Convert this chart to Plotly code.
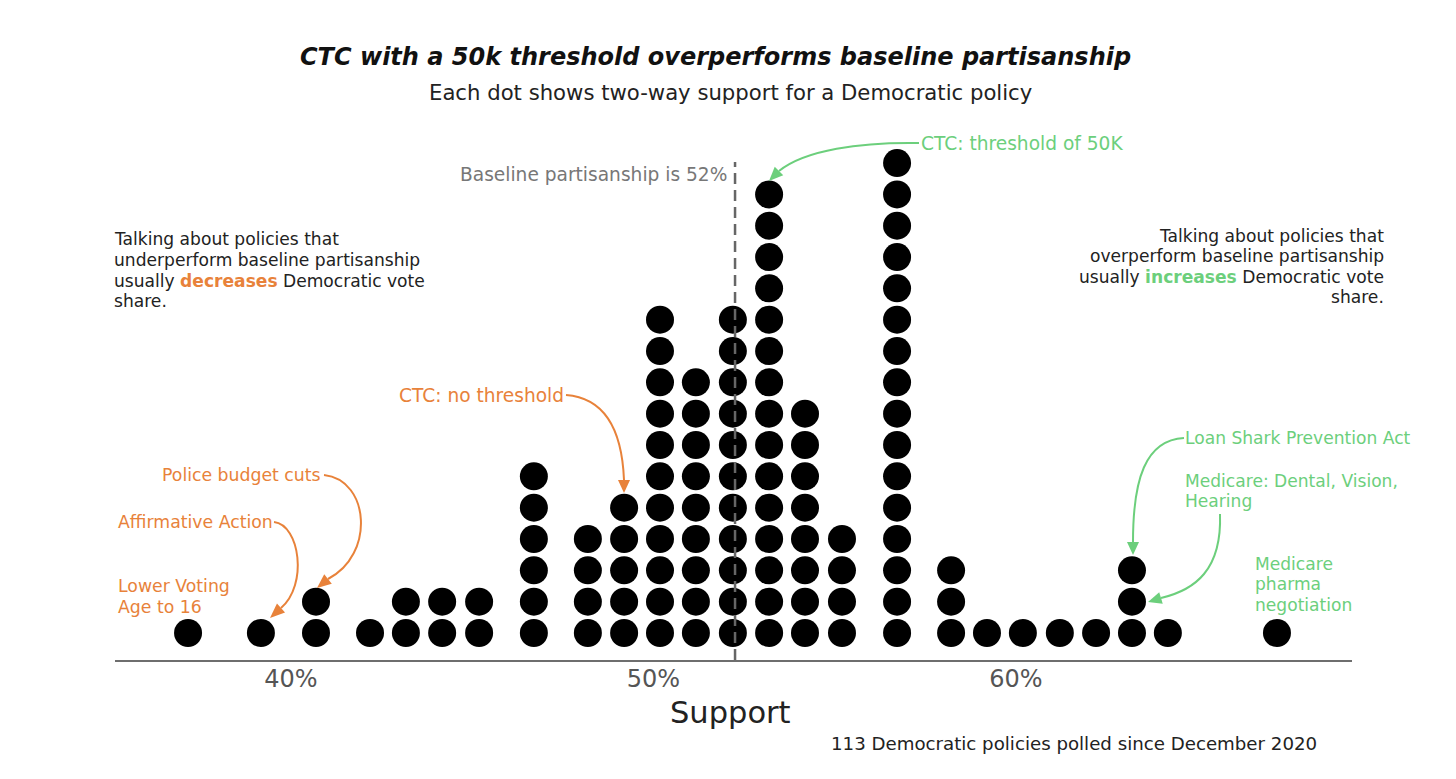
import math
import plotly.graph_objects as go

# ---------------- data ----------------
support_pct = [37.16, 39.17, 40.69, 42.18, 43.17, 44.17, 45.19, 46.70, 48.19,
               49.19, 50.18, 51.17, 52.19, 53.19, 54.18, 55.20, 56.72, 58.21,
               59.20, 60.19, 61.21, 62.21, 63.20, 64.19, 67.20]
policy_counts = [1, 1, 2, 1, 2, 2, 2, 6, 4, 5, 11, 9, 11, 15, 8, 4, 16, 3,
                 1, 1, 1, 1, 3, 1, 1]
baseline_pct = 52.25
tick_values = [40, 50, 60]
tick_labels = ["40%", "50%", "60%"]

# ---------------- styling ----------------
FONT = "DejaVu Sans"
ORANGE = "#E8823A"
GREEN = "#6CCF7C"
DARK = "#222222"
GREY = "#777777"

W, H = 1456, 779
ML, MR, MT, MB = 115, 104, 130, 119
PW = W - ML - MR
PH = H - MT - MB


def P(px, py):
    """pixel position on the figure -> paper coordinates"""
    return (px - ML) / PW, (H - MB - py) / PH


xs, ys = [], []
for x, n in zip(support_pct, policy_counts):
    for k in range(n):
        xs.append(x)
        ys.append(k)

fig = go.Figure()
fig.add_trace(go.Scatter(
    x=xs, y=ys, mode="markers",
    marker=dict(size=28, color="black", line=dict(width=0)),
    hoverinfo="x", showlegend=False,
))

shapes = []
annotations = []

# baseline dashed line
shapes.append(dict(type="line", xref="x", yref="paper",
                   x0=baseline_pct, x1=baseline_pct, y0=0, y1=P(0, 162)[1],
                   line=dict(color="#666666", width=2.5, dash="11px,6px")))


def arrow(S, c1, c2, B, T, color):
    s = P(*S); a = P(*c1); b = P(*c2); e = P(*B)
    path = f"M {s[0]},{s[1]} C {a[0]},{a[1]} {b[0]},{b[1]} {e[0]},{e[1]}"
    shapes.append(dict(type="path", xref="paper", yref="paper", path=path,
                       line=dict(color=color, width=2)))
    dx, dy = T[0] - B[0], T[1] - B[1]
    L = math.hypot(dx, dy)
    ux, uy = dx / L, dy / L
    nx, ny = -uy, ux
    hw = 6.0
    p1 = P(B[0] + nx * hw, B[1] + ny * hw)
    p2 = P(B[0] - nx * hw, B[1] - ny * hw)
    t = P(*T)
    tri = f"M {t[0]},{t[1]} L {p1[0]},{p1[1]} L {p2[0]},{p2[1]} Z"
    shapes.append(dict(type="path", xref="paper", yref="paper", path=tri,
                       fillcolor=color, line=dict(width=0)))


arrow((919, 143), (860, 142), (805, 150), (779, 171), (769, 181), GREEN)
arrow((566, 395), (605, 398), (622, 430), (624, 480), (624, 493), ORANGE)
arrow((324, 475), (370, 480), (375, 555), (328, 579), (317, 588), ORANGE)
arrow((274, 522), (300, 525), (308, 585), (281, 608), (270, 618), ORANGE)
arrow((1184, 438), (1145, 440), (1133, 480), (1133, 542), (1133, 555), GREEN)
arrow((1220, 514), (1222, 570), (1195, 590), (1161, 598), (1148, 602), GREEN)


def text(px, py, s, size=17.2, color=DARK, xanchor="left", yanchor="middle",
         align="left", family=FONT):
    x, y = P(px, py)
    annotations.append(dict(xref="paper", yref="paper", x=x, y=y, text=s,
                            showarrow=False, xanchor=xanchor, yanchor=yanchor,
                            align=align, borderpad=0,
                            font=dict(family=family, size=size, color=color)))


def lines(px, ys_, items, **kw):
    for py, s in zip(ys_, items):
        text(px, py, s, **kw)


# titles
text(715, 57, "<b><i>CTC with a 50k threshold overperforms baseline partisanship</i></b>",
     size=24, color="#111111", xanchor="center")
text(730, 93, "Each dot shows two-way support for a Democratic policy",
     size=21.2, color=DARK, xanchor="center")

# side notes
lines(113, [239, 260, 281, 301],
      ["Talking about policies that", "underperform baseline partisanship",
       f"usually <b><span style='color:{ORANGE}'>decreases</span></b> Democratic vote",
       "share."], size=17.1)
lines(1385, [236, 256, 277, 297],
      ["Talking about policies that", "overperform baseline partisanship",
       f"usually <b><span style='color:{GREEN}'>increases</span></b> Democratic vote",
       "share."], size=17.1, xanchor="right")

# baseline label
text(728, 174, "Baseline partisanship is 52%", size=18.6, color=GREY, xanchor="right")

# policy labels
text(920, 143, "CTC: threshold of 50K", size=18.6, color=GREEN)
text(565, 395, "CTC: no threshold", size=18.6, color=ORANGE, xanchor="right")
text(322, 475, "Police budget cuts", size=17.3, color=ORANGE, xanchor="right")
text(274, 522, "Affirmative Action", size=17.3, color=ORANGE, xanchor="right")
lines(117, [586, 607], ["Lower Voting", "Age to 16"], size=17.3, color=ORANGE)
text(1184, 438, "Loan Shark Prevention Act", size=17.1, color=GREEN)
lines(1184, [481, 501], ["Medicare: Dental, Vision,", "Hearing"], size=17.1, color=GREEN)
lines(1254, [564, 584, 605], ["Medicare", "pharma", "negotiation"], size=17.1, color=GREEN)

# axis title & footnote
text(730, 712, "Support", size=30.5, color=DARK, xanchor="center")
text(1318, 743, "113 Democratic policies polled since December 2020",
     size=18.2, color=DARK, xanchor="right")

fig.update_layout(
    width=W, height=H,
    margin=dict(l=ML, r=MR, t=MT, b=MB),
    paper_bgcolor="white", plot_bgcolor="white",
    font=dict(family=FONT, color=DARK),
    shapes=shapes, annotations=annotations,
    xaxis=dict(range=[35.145, 69.27], showgrid=False, zeroline=False,
               showline=True, linecolor="#6e6e6e", linewidth=2,
               tickvals=tick_values, ticktext=tick_labels, ticks="",
               ticklabelstandoff=-4,
               tickfont=dict(family=FONT, size=24, color="#555555"),
               fixedrange=True),
    yaxis=dict(range=[-0.862, 16.055], visible=False, fixedrange=True),
    hovermode="closest",
)

fig.write_html("out.html",
               config={"displayModeBar": False},
               post_script="document.body.style.margin='0';document.body.style.overflow='hidden';")
